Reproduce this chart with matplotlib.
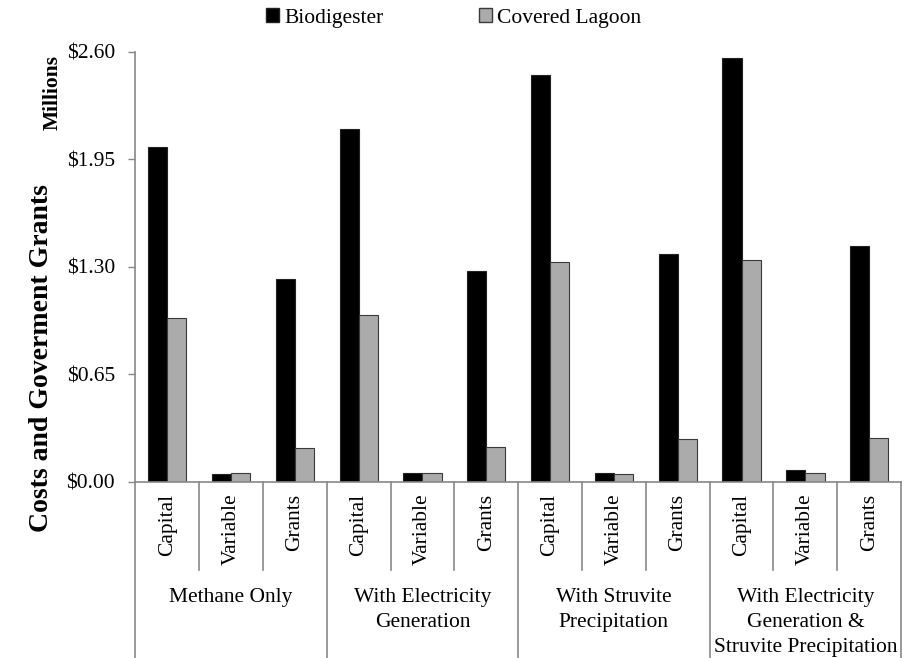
import numpy as np
import matplotlib.pyplot as plt
from matplotlib.patches import Patch
from matplotlib.transforms import blended_transform_factory
from matplotlib.ticker import FuncFormatter

plt.rcParams["font.family"] = ["Liberation Serif", "DejaVu Serif"]

# ==============================
# Data (millions of dollars)
# ==============================
groups = ["Methane Only",
          "With Electricity\nGeneration",
          "With Struvite\nPrecipitation",
          "With Electricity\nGeneration &\nStruvite Precipitation"]
subcats = ["Capital", "Variable", "Grants"]

biodigester = [2.025, 0.048, 1.227,
               2.134, 0.054, 1.276,
               2.460, 0.054, 1.378,
               2.563, 0.073, 1.427]
covered_lagoon = [0.990, 0.054, 0.206,
                  1.010, 0.054, 0.212,
                  1.330, 0.050, 0.260,
                  1.342, 0.054, 0.266]

yticks = [0.0, 0.65, 1.30, 1.95, 2.60]

# ==============================
# Figure
# ==============================
fig = plt.figure(figsize=(9.02, 6.58), dpi=100)
ax = fig.add_axes([0.150, 0.2675, 0.849, 0.6535])

n = len(biodigester)
x = np.arange(n)
w = 0.30
ax.bar(x - w / 2, biodigester, w, color="black", edgecolor="#222222", linewidth=0.8)
ax.bar(x + w / 2, covered_lagoon, w, color="#ababab", edgecolor="#3a3a3a", linewidth=0.8)

ax.set_xlim(-0.5, n - 0.5)
ax.set_ylim(0, 2.60)
ax.set_yticks(yticks)
ax.yaxis.set_major_formatter(FuncFormatter(lambda v, p: "$%.2f" % v))
ax.tick_params(axis="y", direction="out", length=5, width=1, color="#888888",
               pad=9.5, labelsize=15.5)
ax.set_xticks([])

for s in ["top", "right"]:
    ax.spines[s].set_visible(False)
for s in ["left", "bottom"]:
    ax.spines[s].set_color("#888888")
    ax.spines[s].set_linewidth(1.2)

# ==============================
# Multi-level category axis
# ==============================
trans = blended_transform_factory(ax.transData, fig.transFigure)
y0 = 0.2675
for k in range(n + 1):
    xs = k - 0.5
    ybot = 0.0 if k % 3 == 0 else 0.134
    ax.plot([xs, xs], [y0, ybot], color="#888888", lw=1.2,
            transform=trans, clip_on=False)

for i in range(n):
    ax.text(i, 0.250, subcats[i % 3], rotation=90, ha="center", va="top",
            fontsize=15.5, transform=trans)

for g, name in enumerate(groups):
    ax.text(3 * g + 1, 0.107, name, ha="center", va="top", fontsize=15.5,
            linespacing=1.43, transform=trans)

# ==============================
# Labels and legend
# ==============================
fig.text(0.046, 0.456, "Costs and Goverment Grants", rotation=90, ha="center",
         va="center", fontsize=20, fontweight="bold")
fig.text(0.058, 0.859, "Millions", rotation=90, ha="center", va="center",
         fontsize=15.5, fontweight="bold")

handles = [Patch(facecolor="black", edgecolor="#222222", label="Biodigester"),
           Patch(facecolor="#ababab", edgecolor="#3a3a3a", label="Covered Lagoon")]
fig.legend(handles=handles, loc="upper center", bbox_to_anchor=(0.503, 1.017),
           ncol=2, frameon=False, fontsize=15.5, handlelength=0.6,
           handleheight=0.6, handletextpad=0.25, columnspacing=4.4)

fig.savefig("out.png", dpi=100)
